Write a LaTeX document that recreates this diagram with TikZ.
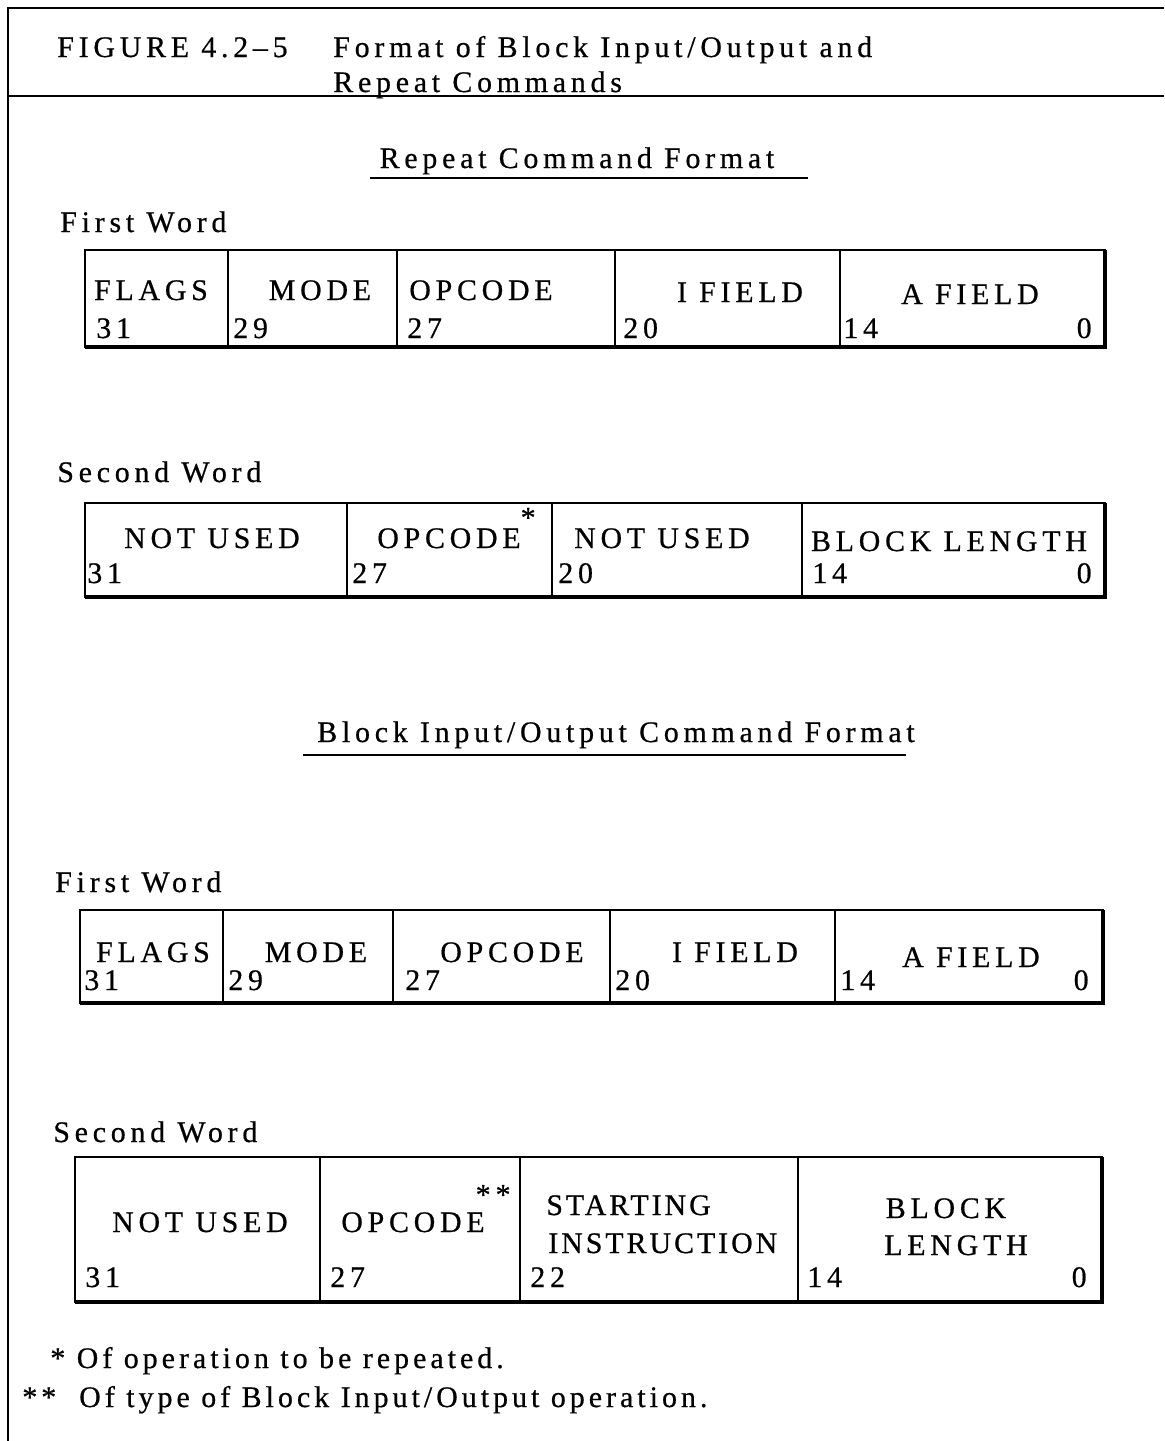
\documentclass[tikz,border=0pt]{standalone}
\usepackage{fontspec}
\setmainfont{Liberation Serif}[LetterSpace=16,FakeBold=0.6]
\usetikzlibrary{positioning}

\begin{document}
\begin{tikzpicture}[x=0.02cm,y=-0.02cm,font=\fontsize{17}{20}\selectfont,
   fld/.style={draw,line width=0.9pt,inner sep=0pt,outer sep=0pt},
   lbl/.style={anchor=base,inner sep=0pt},
   bit/.style={anchor=base west,inner sep=0pt},
   tight/.style={font=\fontsize{17}{20}\selectfont\addfontfeature{LetterSpace=10}},
   note/.style={font=\fontsize{17}{20}\selectfont\addfontfeature{LetterSpace=13.5}},
   shade/.style={line width=2.6pt},
   rule/.style={line width=1.1pt}]
  \useasboundingbox (0,0) rectangle (1164,1441);
  % page frame and title
  \draw[rule] (8,1441) -- (8,8) -- (1164,8);
  \draw[rule] (8,96) -- (1164,96);
  \node[bit] (fig) at (57,57) {FIGURE 4.2–5};
  \node[bit] (ttl1) at (333,57) {Format of Block Input/Output and};
  \node[bit] (ttl2) at (333,92) {Repeat Commands};

  % repeat command
  \node[lbl] (hd1) at (577,168) {Repeat Command Format};
  \draw[line width=1.6pt] (370,178) -- (808,178);
  \node[bit] (w1) at (60,232) {First Word};
  \node[fld,minimum height=1.94cm,minimum width=2.86cm,anchor=north west] (ra1) at (85,250) {};
  \node[fld,minimum height=1.94cm,minimum width=3.38cm,right=0pt of ra1] (ra2) {};
  \node[fld,minimum height=1.94cm,minimum width=4.36cm,right=0pt of ra2] (ra3) {};
  \node[fld,minimum height=1.94cm,minimum width=4.50cm,right=0pt of ra3] (ra4) {};
  \node[fld,minimum height=1.94cm,minimum width=5.30cm,right=0pt of ra4] (ra5) {};
  \draw[shade] (ra1.south west) -- (ra5.south east) -- (ra5.north east);
  \node[lbl] (la1) at (151,300) {FLAGS};
  \node[lbl] (la2) at (320,300) {MODE};
  \node[lbl] (la3) at (481,300) {OPCODE};
  \node[lbl] (la4) at (740,302) {I FIELD};
  \node[lbl] (la5) at (970,304) {A FIELD};
  \node[bit] (na1) at (96,338) {31};
  \node[bit] (na2) at (233,338) {29};
  \node[bit] (na3) at (407,338) {27};
  \node[bit] (na4) at (623,338) {20};
  \node[bit] (na5) at (843,338) {14};
  \node[bit,anchor=base east] (na6) at (1092,338) {0};

  \node[bit] (w2) at (57,482) {Second Word};
  \node[fld,minimum height=1.88cm,minimum width=5.24cm,anchor=north west] (rb1) at (85,503) {};
  \node[fld,minimum height=1.88cm,minimum width=4.10cm,right=0pt of rb1] (rb2) {};
  \node[fld,minimum height=1.88cm,minimum width=5.00cm,right=0pt of rb2] (rb3) {};
  \node[fld,minimum height=1.88cm,minimum width=6.06cm,right=0pt of rb3] (rb4) {};
  \draw[shade] (rb1.south west) -- (rb4.south east) -- (rb4.north east);
  \node[lbl] (lb1) at (212,548) {NOT USED};
  \node[lbl] (lb2) at (449,548) {OPCODE\rlap{\raisebox{1.5ex}{*}}};
  \node[lbl] (lb3) at (662,548) {NOT USED};
  \node[lbl] (lb4) at (949,551) {BLOCK LENGTH};
  \node[bit] (nb1) at (87,583) {31};
  \node[bit] (nb2) at (352,583) {27};
  \node[bit] (nb3) at (558,583) {20};
  \node[bit] (nb4) at (812,583) {14};
  \node[bit,anchor=base east] (nb5) at (1092,583) {0};

  % block input/output command
  \node[lbl] (hd2) at (616,742) {Block Input/Output Command Format};
  \draw[line width=1.6pt] (303,755) -- (906,755);
  \node[bit] (w3) at (55,892) {First Word};
  \node[fld,minimum height=1.86cm,minimum width=2.86cm,anchor=north west] (ba1) at (80,910) {};
  \node[fld,minimum height=1.86cm,minimum width=3.40cm,right=0pt of ba1] (ba2) {};
  \node[fld,minimum height=1.86cm,minimum width=4.34cm,right=0pt of ba2] (ba3) {};
  \node[fld,minimum height=1.86cm,minimum width=4.50cm,right=0pt of ba3] (ba4) {};
  \node[fld,minimum height=1.86cm,minimum width=5.36cm,right=0pt of ba4] (ba5) {};
  \draw[shade] (ba1.south west) -- (ba5.south east) -- (ba5.north east);
  \node[lbl] (lc1) at (153,962) {FLAGS};
  \node[lbl] (lc2) at (316,962) {MODE};
  \node[lbl] (lc3) at (512,962) {OPCODE};
  \node[lbl] (lc4) at (735,962) {I FIELD};
  \node[lbl] (lc5) at (971,967) {A FIELD};
  \node[bit] (nc1) at (84,990) {31};
  \node[bit] (nc2) at (228,990) {29};
  \node[bit] (nc3) at (405,990) {27};
  \node[bit] (nc4) at (615,990) {20};
  \node[bit] (nc5) at (840,990) {14};
  \node[bit,anchor=base east] (nc6) at (1089,990) {0};

  \node[bit] (w4) at (53,1142) {Second Word};
  \node[fld,minimum height=2.90cm,minimum width=4.90cm,anchor=north west] (bb1) at (75,1157) {};
  \node[fld,minimum height=2.90cm,minimum width=4.00cm,right=0pt of bb1] (bb2) {};
  \node[fld,minimum height=2.90cm,minimum width=5.56cm,right=0pt of bb2] (bb3) {};
  \node[fld,minimum height=2.90cm,minimum width=6.08cm,right=0pt of bb3] (bb4) {};
  \draw[shade] (bb1.south west) -- (bb4.south east) -- (bb4.north east);
  \node[lbl] (ld1) at (200,1232) {NOT USED};
  \node[lbl] (ld2) at (413,1232) {OPCODE\rlap{\hspace{-0.3em}\raisebox{2ex}{*\,*}}};
  \node[bit,tight] (ld3) at (546,1215) {STARTING};
  \node[bit,tight] (ld4) at (548,1253) {INSTRUCTION};
  \node[lbl] (ld5) at (946,1218) {BLOCK};
  \node[lbl] (ld6) at (956,1255) {LENGTH};
  \node[bit] (nd1) at (85,1287) {31};
  \node[bit] (nd2) at (330,1287) {27};
  \node[bit] (nd3) at (530,1287) {22};
  \node[bit] (nd4) at (807,1287) {14};
  \node[bit,anchor=base east] (nd5) at (1087,1287) {0};

  % notes
  \node[bit,note] (fn1) at (50,1368) {* Of operation to be repeated.};
  \node[bit,note] (fn2) at (22,1407) {**\ \ Of type of Block Input/Output operation.};
\end{tikzpicture}
\end{document}
